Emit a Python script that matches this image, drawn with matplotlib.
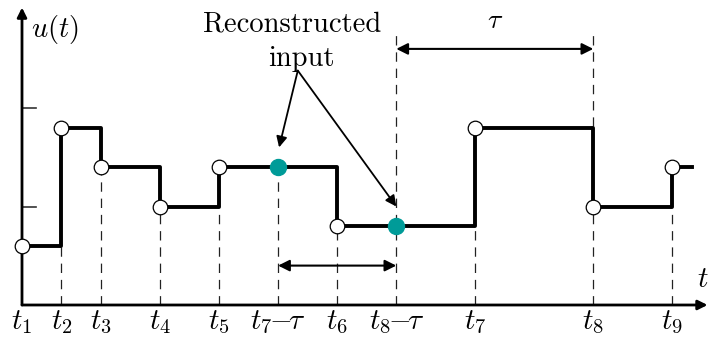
"""Piecewise-constant input u(t) with reconstructed samples at t - tau."""

import matplotlib.pyplot as plt

plt.rcParams['mathtext.fontset'] = 'cm'

# sample times and held input levels
t_samples = [0, 2, 4, 7, 10, 16, 23, 29, 33]
u_levels = [3, 9, 7, 5, 7, 4, 9, 5, 7]
t_end = 34
tau = 10
y_ticks = [5, 10]

# reconstructed points (t7 - tau, t8 - tau)
t_recon = [t_samples[6] - tau, t_samples[7] - tau]
u_recon = [7, 4]

tick_pos = [0, 2, 4, 7, 10, 13, 16, 19, 23, 29, 33]
tick_labels = [r'$t_1$', r'$t_2$', r'$t_3$', r'$t_4$', r'$t_5$',
               r'$t_7\!\!-\!\!\tau$', r'$t_6$', r'$t_8\!\!-\!\!\tau$',
               r'$t_7$', r'$t_8$', r'$t_9$']

fig = plt.figure(figsize=(7.08, 3.37), dpi=100)
ax = fig.add_axes([0, 0, 1, 1])
ax.set_xlim(-22 / 19.7, 686 / 19.7)
ax.set_ylim(-32 / 19.7, 305 / 19.7)
ax.axis('off')

dash = dict(color='#222222', lw=0.9, ls=(0, (7.5, 5.5)), zorder=1)

# axes with arrow heads
ax.annotate('', xy=(34.8, 0), xytext=(0, 0),
            arrowprops=dict(arrowstyle='-|>', lw=2, color='black',
                            mutation_scale=14, shrinkA=0, shrinkB=0))
ax.annotate('', xy=(0, 15.1), xytext=(0, 0),
            arrowprops=dict(arrowstyle='-|>', lw=2, color='black',
                            mutation_scale=14, shrinkA=0, shrinkB=0))
for yt in y_ticks:
    ax.plot([0, 0.7], [yt, yt], color='#333333', lw=1.2)

# dashed drop lines from the lower end of each step
for i in range(1, len(t_samples)):
    top = min(u_levels[i - 1], u_levels[i])
    if i == 7:  # t8 line reaches up to the tau arrow
        top = 14
    ax.plot([t_samples[i], t_samples[i]], [0, top], **dash)
ax.plot([t_recon[0]] * 2, [0, u_recon[0]], **dash)
ax.plot([t_recon[1]] * 2, [0, 14], **dash)

# step signal
xs = t_samples + [t_end]
ys = u_levels + [u_levels[-1]]
ax.step(xs, ys, where='post', color='black', lw=2.8, zorder=2)
ax.plot(t_samples, u_levels, 'o', ms=10.5, mfc='white', mec='black',
        mew=0.9, zorder=3)
ax.plot(t_recon, u_recon, 'o', ms=11.5, color='#009b98', zorder=3)

# tau spans
arr = dict(arrowstyle='<|-|>', lw=1.5, color='black', mutation_scale=17,
           shrinkA=0, shrinkB=0)
ax.annotate('', xy=(t_samples[7], 13), xytext=(t_recon[1], 13),
            arrowprops=arr)
ax.annotate('', xy=(t_recon[1], 2), xytext=(t_recon[0], 2),
            arrowprops=arr)
ax.text((t_recon[1] + t_samples[7]) / 2, 14.45, r'$\tau$', fontsize=20,
        ha='center', va='center')

# reconstructed input callout
ax.text(13.7, 14.25, 'Reconstructed', family='cmr10', fontsize=20.5,
        ha='center', va='center')
ax.text(14.2, 12.5, 'input', family='cmr10', fontsize=20.5,
        ha='center', va='center')
one = dict(arrowstyle='-|>', lw=1.3, color='black', mutation_scale=16,
           shrinkA=0, shrinkB=0)
ax.annotate('', xy=(13.05, 8.0), xytext=(14.0, 11.9), arrowprops=one)
ax.annotate('', xy=(19.0, 5.0), xytext=(14.0, 11.9), arrowprops=one)

# labels
ax.text(0.45, 14.0, r'$u(t)$', fontsize=20.5, ha='left', va='center')
ax.text(34.25, 1.3, r'$t$', fontsize=21, ha='left', va='center')
for x, lab in zip(tick_pos, tick_labels):
    ax.text(x, -0.88, lab, fontsize=21, ha='center', va='center')

fig.savefig('out.png', dpi=100)
